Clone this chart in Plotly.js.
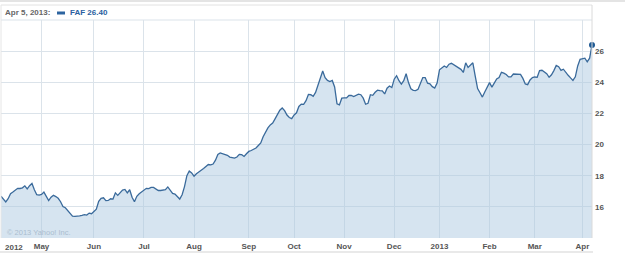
<!DOCTYPE html>
<html>
<head>
<meta charset="utf-8">
<script src="https://cdn.plot.ly/plotly-3.0.1.min.js"></script>
<style>html,body{margin:0;padding:0;background:#fff;}#chart{width:625px;height:255px;}</style>
</head>
<body>
<div id="chart"></div>
<script>
// FAF daily closes, one per trading day, Apr 5 2012 .. Apr 5 2013
const closes = [
16.68,16.50,16.32,16.52,16.85,16.95,17.10,17.19,17.18,17.22,
17.35,17.15,17.36,17.50,17.10,16.78,16.75,16.80,16.95,16.68,
16.40,16.62,16.75,16.66,16.55,16.33,16.02,15.94,15.76,15.52,
15.40,15.39,15.39,15.42,15.45,15.50,15.47,15.60,15.56,15.70,
15.85,16.35,16.55,16.58,16.40,16.41,16.52,16.50,16.90,16.74,
16.95,17.08,17.12,16.90,17.10,16.62,16.33,16.68,16.84,16.95,
17.05,17.19,17.17,17.25,17.25,17.12,17.05,17.05,17.10,17.10,
17.28,17.10,16.86,16.82,16.68,16.50,16.78,17.30,18.00,18.30,
18.18,17.97,18.13,18.22,18.35,18.46,18.62,18.72,18.70,18.75,
19.00,19.37,19.46,19.41,19.36,19.31,19.20,19.14,19.13,19.20,
19.37,19.35,19.24,19.41,19.56,19.62,19.68,19.78,19.94,20.10,
20.50,20.83,21.07,21.26,21.38,21.65,21.93,22.21,22.35,22.18,
21.90,21.74,21.67,21.90,22.04,22.45,22.60,22.58,22.82,23.22,
23.20,23.10,23.35,23.82,24.36,24.72,24.30,24.12,24.05,24.12,
23.70,22.62,22.55,22.98,23.00,23.00,23.15,23.15,23.08,23.14,
23.24,23.20,22.98,22.59,22.65,23.20,23.16,23.36,23.49,23.46,
23.45,23.25,23.62,23.76,23.66,24.20,24.42,24.10,23.88,24.10,
24.55,23.98,23.58,23.48,23.47,23.55,23.88,24.30,24.30,23.94,
23.90,23.72,23.63,23.95,24.80,24.93,25.05,24.95,25.16,25.22,
25.12,25.02,24.94,24.83,24.63,25.25,24.95,25.08,25.25,24.40,
23.60,23.33,23.05,23.38,23.72,23.98,23.69,23.92,24.21,24.30,
24.64,24.59,24.50,24.35,24.35,24.53,24.52,24.51,24.51,24.25,
23.89,23.85,24.15,24.30,24.34,24.32,24.75,24.77,24.68,24.55,
24.32,24.48,24.75,25.08,25.00,24.76,24.84,24.60,24.45,24.28,
24.12,24.35,25.05,25.47,25.49,25.55,25.31,25.55,26.40
];
// trading-day index of each month's first session
const monthTickDay  = [17, 39, 60, 81, 104, 123, 144, 165, 184, 205, 224, 244];
const monthTickText = ['May','Jun','Jul','Aug','Sep','Oct','Nov','Dec','2013','Feb','Mar','Apr'];
const firstYearLabel = '2012';
const priceTicks = [16, 18, 20, 22, 24, 26];
const headerDate = 'Apr 5, 2013:';
const symbol = 'FAF';
const lastClose = 26.40;
const copyrightText = '\u00a9 2013 Yahoo! Inc.';

const tradingDay = closes.map((_, i) => i);
const lastDay = tradingDay[tradingDay.length - 1];

const W = 625, H = 255;
const M = {l: 1, r: 33, t: 20, b: 17};
const PW = W - M.l - M.r, PH = H - M.t - M.b;
const px = x => (x - M.l) / PW;           // pixel x -> paper
const py = y => (H - M.b - y) / PH;       // pixel y -> paper

const gridColor = '#dbe3ea';
const frameColor = '#dadada';

const traces = [
  {
    x: tradingDay, y: closes, type: 'scatter', mode: 'lines',
    line: {color: '#3a6a9b', width: 1.3},
    fill: 'tozeroy', fillcolor: 'rgba(171,199,224,0.49)',
    hoverinfo: 'skip'
  },
  {
    x: [lastDay], y: [lastClose], type: 'scatter', mode: 'markers',
    marker: {color: '#1f5a94', size: 6},
    cliponaxis: false, hoverinfo: 'skip'
  }
];

const layout = {
  width: W, height: H,
  margin: M,
  paper_bgcolor: '#ffffff', plot_bgcolor: '#ffffff',
  showlegend: false,
  font: {family: 'Liberation Sans, Arial, sans-serif', size: 8, color: '#555'},
  xaxis: {
    range: [0, lastDay], tickmode: 'array',
    tickvals: monthTickDay, ticktext: monthTickText,
    showgrid: true, gridcolor: gridColor, gridwidth: 1,
    zeroline: false, showline: false, ticks: '', ticklabelstandoff: 2,
    tickfont: {size: 8, color: '#555', weight: 'bold'}
  },
  yaxis: {
    range: [14, 28], side: 'right', tickmode: 'array', tickvals: priceTicks,
    showgrid: true, gridcolor: gridColor, gridwidth: 1,
    zeroline: false, showline: false, ticks: '', ticklabelstandoff: 2,
    tickfont: {size: 8, color: '#555', weight: 'bold'}
  },
  annotations: [
    {xref: 'paper', yref: 'paper', x: px(3), y: py(12.5), xanchor: 'left', yanchor: 'middle',
     text: '<b>' + headerDate + '</b>', showarrow: false, font: {size: 8, color: '#666666'}},
    {xref: 'paper', yref: 'paper', x: px(67.5), y: py(12.5), xanchor: 'left', yanchor: 'middle',
     text: '<b>' + symbol + ' ' + lastClose.toFixed(2) + '</b>', showarrow: false, font: {size: 8, color: '#2a60a0'}},
    {xref: 'paper', yref: 'paper', x: px(3), y: py(247), xanchor: 'left', yanchor: 'middle',
     text: '<b>' + firstYearLabel + '</b>', showarrow: false, font: {size: 8, color: '#555'}},
    {xref: 'paper', yref: 'paper', x: px(4.5), y: py(232.5), xanchor: 'left', yanchor: 'middle',
     text: copyrightText, showarrow: false, font: {size: 7.5, color: '#aabdcf'}}
  ],
  shapes: [
    // legend swatch
    {type: 'rect', xref: 'paper', yref: 'paper', x0: px(57), x1: px(65), y0: py(14.5), y1: py(11.5),
     fillcolor: '#2d64a0', line: {width: 0}},
    // header box top line
    {type: 'line', xref: 'paper', yref: 'paper', x0: px(1), x1: px(592), y0: py(5), y1: py(5),
     line: {color: '#e2e2e2', width: 1}},
    // plot top line
    {type: 'line', xref: 'paper', yref: 'paper', x0: 0, x1: 1, y0: 1, y1: 1,
     line: {color: gridColor, width: 1}},
    // right frame line
    {type: 'line', xref: 'paper', yref: 'paper', x0: 1, x1: 1, y0: 0, y1: py(5),
     line: {color: frameColor, width: 1}},
    // left frame line
    {type: 'line', xref: 'paper', yref: 'paper', x0: px(1), x1: px(1), y0: 0, y1: py(5),
     line: {color: '#e6e6e6', width: 1}},
    // outer top rule
    {type: 'line', xref: 'paper', yref: 'paper', x0: px(0), x1: px(625), y0: py(1), y1: py(1),
     line: {color: '#e4e4e4', width: 2}},
    // outer bottom rule
    {type: 'line', xref: 'paper', yref: 'paper', x0: px(0), x1: px(593), y0: py(252), y1: py(252),
     line: {color: '#e2e2e2', width: 1.5}}
  ]
};

Plotly.newPlot('chart', traces, layout, {staticPlot: true, displayModeBar: false});
</script>
</body>
</html>
